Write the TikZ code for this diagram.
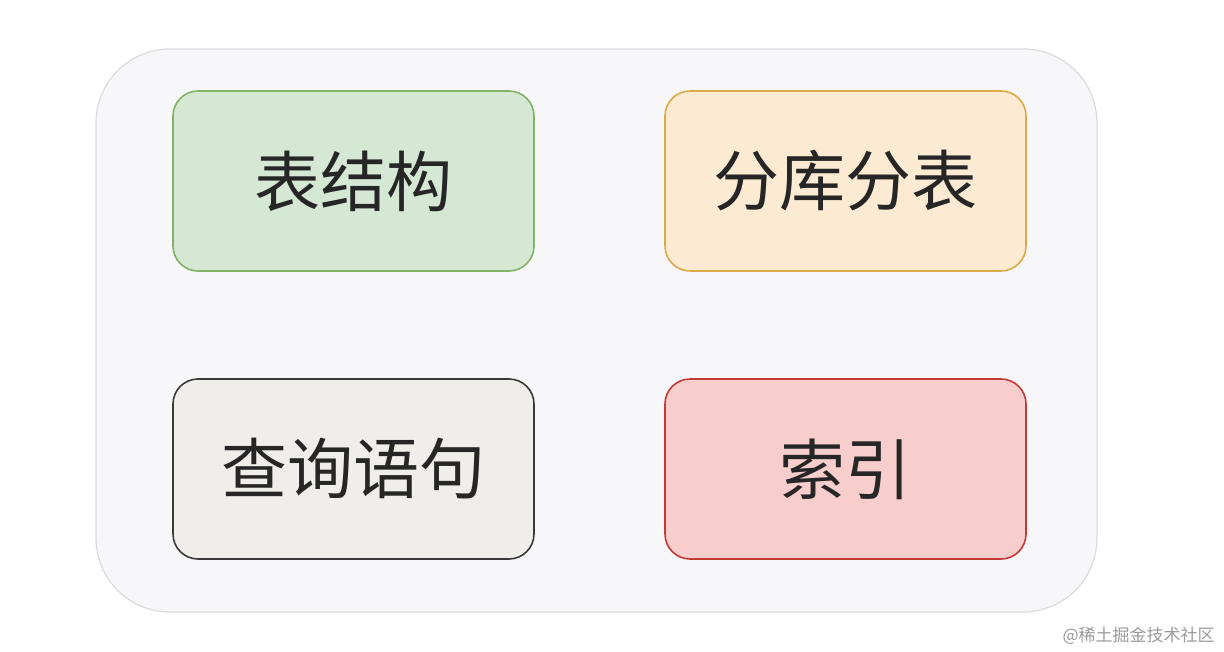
\documentclass[tikz,border=0pt]{standalone}
\usepackage{fontspec}
\usepackage{xcolor}
\usepackage{tikz}
\usetikzlibrary{positioning}
\newfontfamily\cjk{Noto Sans CJK SC}
\definecolor{panelfill}{HTML}{F7F6F9}
\definecolor{paneldraw}{HTML}{DCDADF}
\definecolor{greenfill}{HTML}{D5E8D4}
\definecolor{greendraw}{HTML}{82B366}
\definecolor{orangefill}{HTML}{FCEBD2}
\definecolor{orangedraw}{HTML}{DDAA4A}
\definecolor{grayfill}{HTML}{F0EEEB}
\definecolor{graydraw}{HTML}{3A3A3A}
\definecolor{redfill}{HTML}{F8CECC}
\definecolor{reddraw}{HTML}{C43A36}
\definecolor{marktext}{HTML}{9A9A9A}

\begin{document}
\begin{tikzpicture}[x=0.5pt, y=-0.5pt,
  topicbox/.style={rounded corners=12.5pt, line width=0.8pt, minimum width=180.5pt, minimum height=90pt, inner sep=0pt, text=black!85, font=\cjk\fontsize{33}{33}\selectfont}]
  % Page
  \fill[white] (0,0) rectangle (1224,652);
  \useasboundingbox (0,0) rectangle (1224,652);

  % Panel
  \filldraw[panelfill, draw=paneldraw, line width=0.6pt, rounded corners=37pt] (96,49) rectangle (1097,612);

  % Topics
  \node[topicbox, fill=greenfill, draw=greendraw] (schema) at (353.5,181) {表结构};
  \node[topicbox, fill=orangefill, draw=orangedraw] (sharding) at (845.5,181) {分库分表};
  \node[topicbox, fill=grayfill, draw=graydraw] (query) at (353.5,469) {查询语句};
  \node[topicbox, fill=redfill, draw=reddraw] (index) at (845.5,469) {索引};

  % Watermark
  \node[marktext, anchor=east, inner sep=0pt, font=\cjk\fontsize{8.5}{8.5}\selectfont] (mark) at (1215,636) {@稀土掘金技术社区};
\end{tikzpicture}
\end{document}
